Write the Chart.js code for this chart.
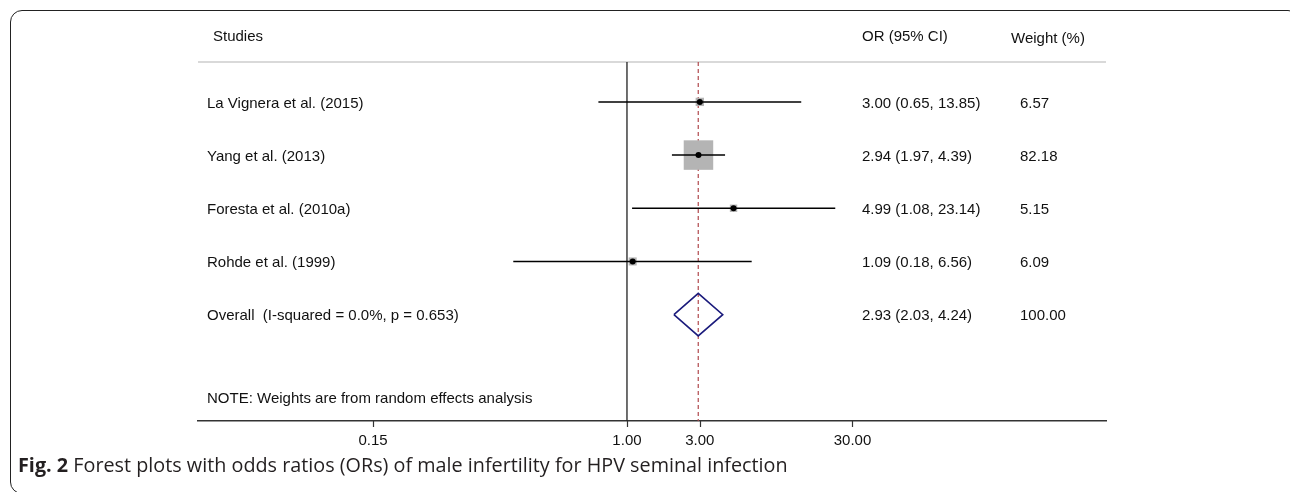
<!DOCTYPE html>
<html>
<head>
<meta charset="utf-8">
<script src="https://cdn.jsdelivr.net/npm/chart.js@4.4.0/dist/chart.umd.min.js"></script>
<style>
  html, body { margin: 0; padding: 0; background: #fff; }
  body { width: 1290px; height: 492px; position: relative; overflow: hidden; }
  #frame {
    position: absolute; left: 10px; top: 10px; width: 1290px; height: 484px;
    border: 1.5px solid #222; border-radius: 12px; box-sizing: border-box;
  }
  #forest { position: absolute; left: 0; top: 0; }
  #caption {
    position: absolute; left: 18px; top: 451px; white-space: nowrap;
    font-family: "Open Sans", "Noto Sans", sans-serif; font-size: 19.8px; color: #231f20;
  }
</style>
</head>
<body>
<div id="frame"></div>
<canvas id="forest" width="1290" height="492"></canvas>
<div id="caption"><b>Fig. 2</b> Forest plots with odds ratios (ORs) of male infertility for HPV seminal infection</div>
<script>
// study rows, top to bottom
var studies = ['La Vignera et al. (2015)', 'Yang et al. (2013)', 'Foresta et al. (2010a)', 'Rohde et al. (1999)'];
var orValues = [3.00, 2.94, 4.99, 1.09];
var ciLower = [0.65, 1.97, 1.08, 0.18];
var ciUpper = [13.85, 4.39, 23.14, 6.56];
var weights = [6.57, 82.18, 5.15, 6.09];

// pooled estimate (random effects)
var overallLabel = 'Overall  (I-squared = 0.0%, p = 0.653)';
var overallOr = 2.93;
var overallLower = 2.03;
var overallUpper = 4.24;
var overallWeight = 100.00;

// x axis ticks (the "0.15" label sits this far left in the original figure)
var tickValues = [0.0217, 1, 3, 30];
var tickLabels = ['0.15', '1.00', '3.00', '30.00'];

var note = 'NOTE: Weights are from random effects analysis';

var overallRow = studies.length + 1;
var fontTxt = '15px "Liberation Sans", Arial, sans-serif';

function ciText(o, l, u) {
    return o.toFixed(2) + ' (' + l.toFixed(2) + ', ' + u.toFixed(2) + ')';
}

// box side grows with sqrt(weight); largest study gets ~29px
var maxW = Math.max.apply(null, weights);
function boxRadius(w) {
    return 29.5 * Math.sqrt(w / maxW) / Math.SQRT2;
}

var datasets = [];

// point estimates
datasets.push({
    data: orValues.map(function (v, i) { return { x: v, y: i + 1 }; }),
    pointStyle: 'circle',
    pointRadius: 3,
    backgroundColor: '#000',
    borderWidth: 0,
    order: 0
});

// overall diamond
datasets.push({
    data: [
        { x: overallLower, y: overallRow },
        { x: overallOr, y: overallRow - 0.4 },
        { x: overallUpper, y: overallRow },
        { x: overallOr, y: overallRow + 0.4 },
        { x: overallLower, y: overallRow }
    ],
    showLine: true,
    borderColor: '#1b1b7c',
    borderWidth: 1.6,
    pointRadius: 0,
    order: 0
});

// confidence intervals
studies.forEach(function (s, i) {
    datasets.push({
        data: [{ x: ciLower[i], y: i + 1 }, { x: ciUpper[i], y: i + 1 }],
        showLine: true,
        borderColor: '#000',
        borderWidth: 1.5,
        pointRadius: 0,
        order: 1
    });
});

// weight boxes
datasets.push({
    data: orValues.map(function (v, i) { return { x: v, y: i + 1 }; }),
    pointStyle: 'rect',
    pointRadius: function (ctx) { return boxRadius(weights[ctx.dataIndex]); },
    backgroundColor: '#b4b4b4',
    borderWidth: 0,
    order: 2
});

// line of no effect
datasets.push({
    data: [{ x: 1, y: 0.25 }, { x: 1, y: 7 }],
    showLine: true,
    borderColor: '#222',
    borderWidth: 1.3,
    pointRadius: 0,
    order: 3
});

// pooled estimate line
datasets.push({
    data: [{ x: overallOr, y: 0.25 }, { x: overallOr, y: 7 }],
    showLine: true,
    borderColor: '#b0484c',
    borderWidth: 1.2,
    borderDash: [4, 3],
    pointRadius: 0,
    order: 4
});

var textPlugin = {
    id: 'forestText',
    beforeDatasetsDraw: function (chart) {
        var c = chart.ctx, a = chart.chartArea;
        c.save();
        c.strokeStyle = '#cccccc';
        c.lineWidth = 1.5;
        c.beginPath();
        c.moveTo(a.left, a.top);
        c.lineTo(a.right, a.top);
        c.stroke();
        c.restore();
    },
    afterDraw: function (chart) {
        var c = chart.ctx, y = chart.scales.y, x = chart.scales.x, a = chart.chartArea;
        c.save();

        // tick marks under the axis
        c.strokeStyle = '#333';
        c.lineWidth = 1.2;
        c.beginPath();
        tickValues.forEach(function (v) {
            var px = Math.round(x.getPixelForValue(v)) + 0.5;
            c.moveTo(px, a.bottom);
            c.lineTo(px, a.bottom + 6);
        });
        c.stroke();

        c.font = fontTxt;
        c.fillStyle = '#111';
        c.textBaseline = 'middle';
        c.textAlign = 'left';
        var dy = 1.5;

        var hy = y.getPixelForValue(-0.25) + dy;
        c.fillText('Studies', 213, hy);
        c.fillText('OR (95% CI)', 862, hy);
        c.fillText('Weight (%)', 1011, hy + 2);

        studies.forEach(function (s, i) {
            var py = y.getPixelForValue(i + 1) + dy;
            c.fillText(s, 207, py);
            c.fillText(ciText(orValues[i], ciLower[i], ciUpper[i]), 862, py);
            c.fillText(weights[i].toFixed(2), 1020, py);
        });

        var oy = y.getPixelForValue(overallRow) + dy;
        c.fillText(overallLabel, 207, oy);
        c.fillText(ciText(overallOr, overallLower, overallUpper), 862, oy);
        c.fillText(overallWeight.toFixed(2), 1020, oy);

        c.fillText(note, 207, y.getPixelForValue(6.55) + dy);
        c.restore();
    }
};

var ctx = document.getElementById('forest');
var forestChart = new Chart(ctx, {
    type: 'scatter',
    data: { datasets: datasets },
    options: {
        responsive: false,
        devicePixelRatio: 1,
        animation: false,
        layout: { padding: { left: 198, right: 184, top: 62, bottom: 31 } },
        plugins: { legend: { display: false }, tooltip: { enabled: false } },
        scales: {
            x: {
                type: 'logarithmic',
                min: Math.exp(-6.47),
                max: Math.exp(7.225),
                afterBuildTicks: function (scale) {
                    scale.ticks = tickValues.map(function (v) { return { value: v }; });
                },
                afterFit: function (scale) { scale.height = 40; },
                ticks: {
                    autoSkip: false,
                    maxRotation: 0,
                    padding: 3,
                    color: '#111',
                    font: { family: '"Liberation Sans", Arial, sans-serif', size: 15 },
                    callback: function (v, i) { return tickLabels[i]; }
                },
                grid: { display: false },
                border: { display: true, color: '#333', width: 1.5 }
            },
            y: {
                type: 'linear',
                reverse: true,
                min: 0.25,
                max: 7,
                display: false
            }
        }
    },
    plugins: [textPlugin]
});
</script>
</body>
</html>
